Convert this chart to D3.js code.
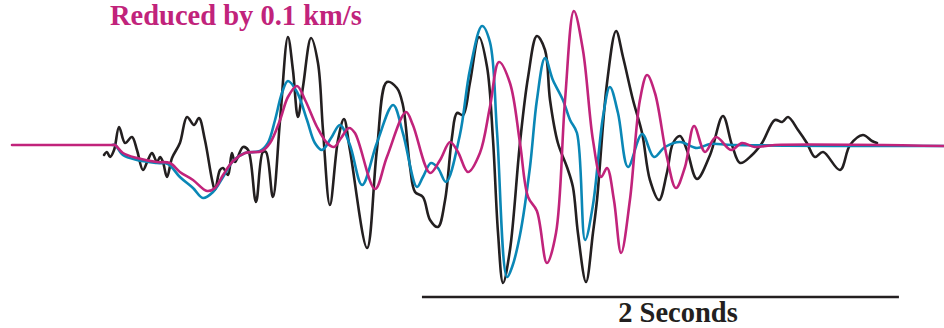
<!DOCTYPE html>
<html>
<head>
<meta charset="utf-8">
<script src="https://cdn.jsdelivr.net/npm/d3@7"></script>
<style>
  html, body { margin: 0; padding: 0; background: #fff; }
  svg { display: block; }
</style>
</head>
<body>
<div id="chart"></div>
<script>
// time in ms, amplitude in relative units (0 = trace baseline)
const observedT = [386, 398, 411, 428, 449, 474, 503, 524, 549, 570, 587, 608, 621, 633, 650, 671, 704, 734, 763, 784, 809, 839, 851, 872, 885, 906, 922, 935, 969, 990, 1023, 1052, 1065, 1094, 1124, 1157, 1178, 1199, 1220, 1254, 1283, 1304, 1333, 1367, 1392, 1417, 1489, 1530, 1572, 1614, 1639, 1669, 1690, 1723, 1753, 1786, 1816, 1845, 1866, 1891, 1920, 1958, 1992, 2017, 2038, 2059, 2088, 2130, 2164, 2201, 2235, 2256, 2289, 2327, 2352, 2373, 2407, 2436, 2453, 2495, 2533, 2562, 2604, 2642, 2675, 2713, 2746, 2772, 2801, 2830, 2872, 2927, 2981, 3019, 3053, 3103, 3145, 3199, 3229, 3254, 3296, 3333, 3367, 3401, 3472, 3514, 3568, 3606, 3627];
const observedA = [-0.10, -0.07, -0.12, -0.05, 0.18, 0.02, 0.08, -0.05, -0.25, -0.15, -0.08, -0.17, -0.12, -0.17, -0.32, -0.13, 0.02, 0.28, 0.20, 0.27, 0.05, -0.35, -0.45, -0.25, -0.23, -0.30, -0.08, -0.17, -0.02, -0.05, -0.57, -0.07, -0.07, -0.52, 0.25, 1.08, 0.75, 0.28, 0.58, 1.07, 0.82, 0.15, -0.60, 0.05, 0.26, -0.05, -1.03, -0.05, 0.63, 0.57, 0.40, -0.22, -0.47, -0.52, -0.75, -0.82, -0.55, 0.08, 0.32, 0.30, 0.62, 1.08, 0.78, 0.05, -0.88, -1.38, -1.05, 0.02, 0.68, 1.09, 0.95, 0.45, 0.02, -0.22, -0.42, -0.88, -1.37, -0.88, -0.55, 0.62, 1.14, 0.88, 0.45, 0.12, -0.35, -0.55, -0.28, 0.02, 0.09, -0.05, -0.34, -0.10, 0.29, 0.00, -0.18, -0.10, 0.02, 0.25, 0.23, 0.28, 0.15, 0.02, -0.12, -0.07, -0.25, 0.00, 0.10, 0.04, 0.02];

const modelT = [420, 432, 465, 524, 608, 654, 704, 759, 801, 843, 885, 927, 977, 1040, 1073, 1103, 1132, 1157, 1195, 1237, 1270, 1300, 1338, 1375, 1417, 1468, 1530, 1598, 1639, 1698, 1723, 1757, 1786, 1820, 1878, 1920, 1971, 2004, 2034, 2076, 2097, 2130, 2172, 2201, 2235, 2268, 2310, 2340, 2369, 2403, 2436, 2478, 2507, 2541, 2583, 2642, 2692, 2738, 2801, 2872, 2927, 3023, 3908];
const modelA = [0.00, 0.00, -0.10, -0.15, -0.18, -0.19, -0.32, -0.43, -0.53, -0.47, -0.32, -0.16, -0.08, -0.06, 0.02, 0.25, 0.52, 0.64, 0.53, 0.25, 0.02, -0.05, 0.07, 0.20, 0.00, -0.40, 0.02, 0.40, 0.12, -0.42, -0.32, -0.18, -0.23, -0.37, 0.10, 0.75, 1.19, 1.03, 0.12, -1.32, -1.22, -0.90, -0.22, 0.45, 0.87, 0.65, 0.45, 0.25, 0.12, -0.95, -0.60, 0.28, 0.58, 0.32, -0.22, 0.11, -0.12, -0.02, 0.03, -0.03, 0.01, 0.00, -0.01];

const reducedT = [0, 200, 420, 432, 465, 524, 608, 662, 704, 759, 818, 851, 885, 927, 977, 1048, 1082, 1124, 1157, 1195, 1229, 1279, 1321, 1350, 1380, 1413, 1438, 1522, 1572, 1652, 1681, 1753, 1795, 1837, 1870, 1912, 1962, 2004, 2042, 2088, 2130, 2164, 2201, 2243, 2281, 2319, 2356, 2394, 2436, 2470, 2495, 2524, 2554, 2591, 2633, 2663, 2696, 2746, 2784, 2822, 2860, 2906, 2952, 3015, 3061, 3115, 3199, 3908];
const reducedA = [0.00, 0.00, 0.00, 0.00, -0.08, -0.13, -0.17, -0.18, -0.27, -0.35, -0.46, -0.43, -0.30, -0.16, -0.08, -0.06, 0.02, 0.25, 0.48, 0.59, 0.45, 0.18, 0.02, -0.02, 0.07, 0.17, 0.12, -0.44, -0.12, 0.33, 0.20, -0.28, -0.15, 0.03, -0.07, -0.27, -0.08, 0.38, 0.83, 0.62, 0.02, -0.52, -0.66, -1.18, -0.88, 0.45, 1.34, 0.95, 0.05, -0.32, -0.23, -0.55, -1.08, -0.55, 0.45, 0.70, 0.52, -0.12, -0.43, -0.22, 0.19, -0.07, 0.08, -0.05, 0.02, -0.02, 0.00, -0.01];

const titleText = 'Reduced by 0.1 km/s';
const barStart = 1719, barLength = 2000;
const barLabel = '2 Seconds';

const width = 944, height = 328;

const svg = d3.select('#chart').append('svg')
  .attr('width', width)
  .attr('height', height);

const x = d3.scaleLinear().domain([0, 3908]).range([12, 944]);
const y = d3.scaleLinear().domain([-1.45, 1.45]).range([290, 0]);

const line = d3.line()
  .x(d => x(d[0]))
  .y(d => y(d[1]))
  .curve(d3.curveCatmullRom.alpha(0.5));

const traces = [
  { t: observedT, a: observedA, color: '#231f20' },
  { t: modelT, a: modelA, color: '#0a87b6' },
  { t: reducedT, a: reducedA, color: '#c1237b' }
];

traces.forEach(tr => {
  svg.append('path')
    .datum(d3.zip(tr.t, tr.a))
    .attr('d', line)
    .attr('fill', 'none')
    .attr('stroke', tr.color)
    .attr('stroke-width', 2.6)
    .attr('stroke-linejoin', 'round')
    .attr('stroke-linecap', 'round');
});

svg.append('text')
  .attr('x', 110)
  .attr('y', 25)
  .attr('fill', '#c1237b')
  .style('font-family', '"Liberation Serif", "Times New Roman", serif')
  .style('font-weight', 'bold')
  .style('font-size', '28.5px')
  .text(titleText);

// scale bar
svg.append('line')
  .attr('x1', x(barStart))
  .attr('x2', x(barStart + barLength))
  .attr('y1', 297)
  .attr('y2', 297)
  .attr('stroke', '#231f20')
  .attr('stroke-width', 2.6);

svg.append('text')
  .attr('x', 678)
  .attr('y', 322)
  .attr('text-anchor', 'middle')
  .attr('fill', '#231f20')
  .style('font-family', '"Liberation Serif", "Times New Roman", serif')
  .style('font-weight', 'bold')
  .style('font-size', '28.5px')
  .text(barLabel);
</script>
</body>
</html>
